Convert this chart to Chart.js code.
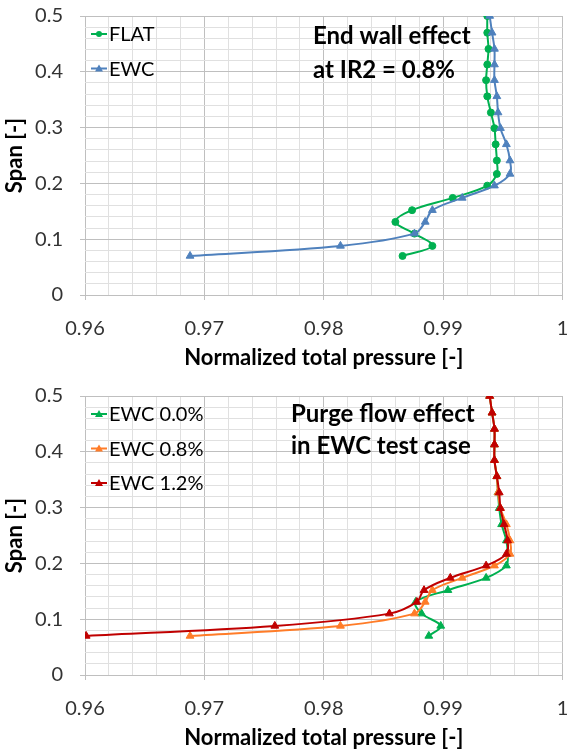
<!DOCTYPE html>
<html>
<head>
<meta charset="utf-8">
<script src="https://cdn.jsdelivr.net/npm/chart.js@4"></script>
<style>
  html, body { margin: 0; padding: 0; background: #fff; overflow: hidden; }
  .box { position: absolute; left: 0; width: 568px; height: 376px; }
</style>
</head>
<body>
<div class="box" style="top:0"><canvas id="top-chart" width="568" height="376"></canvas></div>
<div class="box" style="top:380px"><canvas id="bottom-chart" width="568" height="376"></canvas></div>
<script>
// Dados (span = eixo y, pressão normalizada = eixo x)
const span = [0.07, 0.088, 0.11, 0.131, 0.152, 0.174, 0.196, 0.217, 0.241, 0.27, 0.299, 0.327, 0.356, 0.385, 0.413, 0.441, 0.47, 0.5];
const flat = [0.9866, 0.9891, 0.9876, 0.9860, 0.9874, 0.9908, 0.9937, 0.9945, 0.9945, 0.9944, 0.9943, 0.9940, 0.9937, 0.9936, 0.9937, 0.9938, 0.9937, 0.9937];
const ewc08 = [0.9688, 0.9814, 0.9876, 0.9885, 0.9891, 0.9916, 0.9943, 0.9956, 0.9956, 0.9953, 0.9948, 0.9946, 0.9945, 0.9943, 0.9943, 0.9943, 0.9941, 0.9939];
const ewc00 = [0.9888, 0.9898, 0.9882, 0.9877, 0.9904, 0.9936, 0.9953, 0.9954, 0.9953, 0.9949, 0.9947, 0.9946, 0.9945, 0.9943, 0.9943, 0.9943, 0.9941, 0.9939];
const ewc12 = [0.9601, 0.9759, 0.9855, 0.9878, 0.9884, 0.9906, 0.9936, 0.9953, 0.9954, 0.9951, 0.9948, 0.9947, 0.9945, 0.9943, 0.9943, 0.9943, 0.9941, 0.9939];
const xTicks = [0.96, 0.97, 0.98, 0.99, 1];
const yTicks = [0, 0.1, 0.2, 0.3, 0.4, 0.5];

const FONT = "Lato";
const isMajor = (v, step) => Math.abs(v / step - Math.round(v / step)) < 1e-6;
const toPoints = (xs) => xs.map((x, i) => ({ x: x, y: span[i] }));

function series(label, xs, color, style, order) {
  return {
    label: label,
    data: toPoints(xs),
    showLine: true,
    borderColor: color,
    backgroundColor: color,
    borderWidth: 2,
    pointStyle: style,
    pointRadius: style === "circle" ? 3.5 : 4.5,
    pointBorderWidth: 1,
    tension: 0.35,
    order: order,
  };
}

// Legenda e texto dentro da área do gráfico
const notePlugin = {
  id: "note",
  afterDraw(chart, args, opts) {
    const c = chart.ctx;
    c.save();
    chart.data.datasets.forEach((ds, i) => {
      const y = opts.legendY + i * 34.5;
      c.strokeStyle = ds.borderColor;
      c.fillStyle = ds.borderColor;
      c.lineWidth = 2;
      c.beginPath();
      c.moveTo(91, y);
      c.lineTo(107, y);
      c.stroke();
      c.beginPath();
      if (ds.pointStyle === "circle") {
        c.arc(99, y, 3, 0, Math.PI * 2);
      } else {
        c.moveTo(99, y - 4);
        c.lineTo(103, y + 3);
        c.lineTo(95, y + 3);
        c.closePath();
      }
      c.fill();
      c.fillStyle = "#000";
      c.font = "20px " + FONT;
      c.textBaseline = "middle";
      c.fillText(ds.label, 109, y + 1);
    });
    c.font = "bold 24px " + FONT;
    opts.note.forEach((line, i) => c.fillText(line, opts.noteX, opts.noteY + i * opts.noteGap));
    c.restore();
  },
};

function options(note, noteX, noteY, noteGap) {
  return {
    responsive: false,
    animation: false,
    layout: { padding: { top: 16, right: 3, left: 0, bottom: 0 } },
    plugins: {
      legend: { display: false },
      tooltip: { enabled: false },
      note: { note: note, noteX: noteX, noteY: noteY, noteGap: noteGap, legendY: 34 },
    },
    scales: {
      x: {
        type: "linear",
        min: xTicks[0],
        max: xTicks[xTicks.length - 1],
        afterFit: (s) => { s.height = 81; s.paddingRight = 3; },
        ticks: {
          stepSize: 0.002,
          maxTicksLimit: 1000,
          autoSkip: false,
          maxRotation: 0,
          padding: 17,
          color: "#333",
          font: { family: FONT, size: 20 },
          callback: (v) => (isMajor(v, 0.01) ? String(Math.round(v * 100) / 100) : ""),
        },
        grid: {
          color: (ctx) => (isMajor(ctx.tick.value, 0.01) ? "#bfbfbf" : "#e0e0e0"),
          tickColor: (ctx) => (isMajor(ctx.tick.value, 0.01) ? "#bfbfbf" : "rgba(0,0,0,0)"),
          tickLength: 5,
        },
        border: { display: false },
        title: {
          display: true,
          text: "Normalized total pressure [-]",
          color: "#000",
          font: { family: FONT, size: 22, weight: "bold" },
          padding: { top: 0, bottom: 5 },
        },
      },
      y: {
        type: "linear",
        min: yTicks[0],
        max: yTicks[yTicks.length - 1],
        afterFit: (s) => { s.width = 85; s.paddingTop = 0; s.paddingBottom = 0; },
        ticks: {
          stepSize: 0.02,
          maxTicksLimit: 1000,
          autoSkip: false,
          padding: 17,
          color: "#333",
          font: { family: FONT, size: 20 },
          callback: (v) => (isMajor(v, 0.1) ? String(Math.round(v * 10) / 10) : ""),
        },
        grid: {
          color: (ctx) => (isMajor(ctx.tick.value, 0.1) ? "#bfbfbf" : "#e0e0e0"),
          tickColor: (ctx) => (isMajor(ctx.tick.value, 0.1) ? "#bfbfbf" : "rgba(0,0,0,0)"),
          tickLength: 5,
        },
        border: { display: false },
        title: {
          display: true,
          text: "Span [-]",
          color: "#000",
          font: { family: FONT, size: 22, weight: "bold" },
          padding: { top: 2, bottom: 0 },
        },
      },
    },
  };
}

// Gráfico de cima: efeito da parede
new Chart(document.getElementById("top-chart").getContext("2d"), {
  type: "scatter",
  data: {
    datasets: [
      series("FLAT", flat, "#00b050", "circle", 2),
      series("EWC", ewc08, "#4f81bd", "triangle", 1),
    ],
  },
  options: options(["End wall effect", "at IR2 = 0.8%"], 313, 36, 34),
  plugins: [notePlugin],
});

// Gráfico de baixo: efeito do purge flow
new Chart(document.getElementById("bottom-chart").getContext("2d"), {
  type: "scatter",
  data: {
    datasets: [
      series("EWC 0.0%", ewc00, "#00b050", "triangle", 3),
      series("EWC 0.8%", ewc08, "#ff7c28", "triangle", 2),
      series("EWC 1.2%", ewc12, "#c00000", "triangle", 1),
    ],
  },
  options: options(["Purge flow effect", "in EWC test case"], 291, 34, 32),
  plugins: [notePlugin],
});
</script>
</body>
</html>
